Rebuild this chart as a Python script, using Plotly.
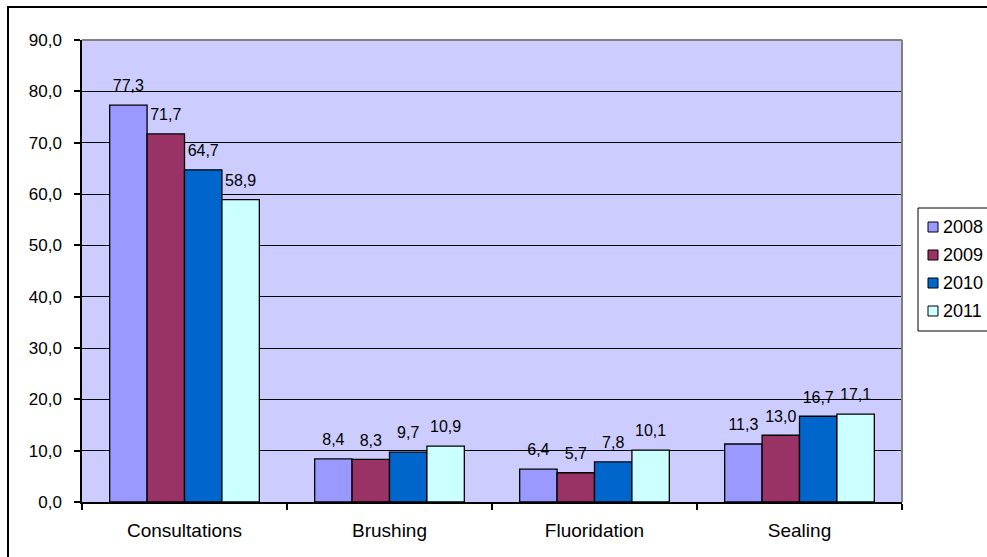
import plotly.graph_objects as go

# Share of dental procedures by year (%)
categories = ["Consultations", "Brushing", "Fluoridation", "Sealing"]
years = ["2008", "2009", "2010", "2011"]
v2008 = [77.3, 8.4, 6.4, 11.3]
v2009 = [71.7, 8.3, 5.7, 13.0]
v2010 = [64.7, 9.7, 7.8, 16.7]
v2011 = [58.9, 10.9, 10.1, 17.1]
y_ticks = [0, 10, 20, 30, 40, 50, 60, 70, 80, 90]

series = [v2008, v2009, v2010, v2011]
colors = ["#9999FF", "#993366", "#0066CC", "#CCFFFF"]
FONT = "Liberation Sans, Arial, sans-serif"

W, H = 987, 557
ML, MR, MT, MB = 82, 85, 40, 55
PW, PH = W - ML - MR, H - MT - MB


def px(x):
    """pixel column -> paper x"""
    return (x - ML) / PW


def py(y):
    """pixel row -> paper y"""
    return (H - MB - y) / PH


def fmt(v):
    return f"{v:.1f}".replace(".", ",")


fig = go.Figure()

for name, vals, col in zip(years, series, colors):
    fig.add_trace(go.Bar(
        x=categories, y=vals, name=name,
        marker=dict(color=col, line=dict(color="black", width=1.3)),
        offsetgroup=name, hoverinfo="skip", showlegend=False,
    ))

# value labels, grouped to sit over their bars
for name, vals in zip(years, series):
    fig.add_trace(go.Scatter(
        x=categories, y=vals, mode="markers+text",
        text=[fmt(v) for v in vals], textposition="top center",
        textfont=dict(family=FONT, size=16, color="black"),
        marker=dict(size=14, opacity=0),
        offsetgroup=name, showlegend=False, hoverinfo="skip",
        cliponaxis=False,
    ))

shapes = [
    # gray frame on the top and right of the plot area
    dict(type="line", xref="paper", yref="paper", x0=0, x1=1, y0=1, y1=1,
         line=dict(color="#808080", width=2), layer="above"),
    dict(type="line", xref="paper", yref="paper", x0=1, x1=1, y0=0, y1=1,
         line=dict(color="#808080", width=2), layer="above"),
    # outer chart border
    dict(type="rect", xref="paper", yref="paper",
         x0=px(8), x1=px(W + 20), y0=py(H + 20), y1=py(7),
         line=dict(color="black", width=2), layer="below"),
    # legend box
    dict(type="rect", xref="paper", yref="paper",
         x0=px(918), x1=px(W + 20), y0=py(331), y1=py(208),
         line=dict(color="black", width=1), fillcolor="white", layer="above"),
]
annotations = []

# legend entries
row0, step = 227, 28
for i, (name, col) in enumerate(zip(years, colors)):
    yc = row0 + i * step
    shapes.append(dict(
        type="rect", xref="paper", yref="paper",
        x0=px(928), x1=px(938), y0=py(yc + 5), y1=py(yc - 5),
        fillcolor=col, line=dict(color="black", width=1), layer="above",
    ))
    annotations.append(dict(
        xref="paper", yref="paper", x=px(941), y=py(yc),
        xanchor="left", yanchor="middle", showarrow=False, text=name,
        font=dict(family=FONT, size=18, color="black"),
    ))

fig.update_layout(
    width=W, height=H,
    margin=dict(l=ML, r=MR, t=MT, b=MB),
    paper_bgcolor="white", plot_bgcolor="#CCCCFF",
    barmode="group", bargap=0.27, bargroupgap=0,
    scattermode="group", scattergap=0.27,
    separators=", ",
    font=dict(family=FONT, color="black", size=17),
    showlegend=False,
    xaxis=dict(
        type="category", showgrid=False, showline=True,
        linecolor="black", linewidth=1.5,
        ticks="outside", tickson="boundaries", ticklen=6,
        tickcolor="black", tickwidth=1.5,
        tickfont=dict(family=FONT, size=19, color="black"),
        ticklabelstandoff=10,
    ),
    yaxis=dict(
        range=[0, 90], tickvals=y_ticks, tickformat=".1f",
        showgrid=True, gridcolor="black", gridwidth=1,
        showline=True, linecolor="black", linewidth=1.5,
        ticks="outside", ticklen=6, tickcolor="black", tickwidth=1.5,
        tickfont=dict(family=FONT, size=17, color="black"),
        zeroline=False, ticklabelstandoff=9,
    ),
    shapes=shapes,
    annotations=annotations,
)

fig.write_html("out.html")
